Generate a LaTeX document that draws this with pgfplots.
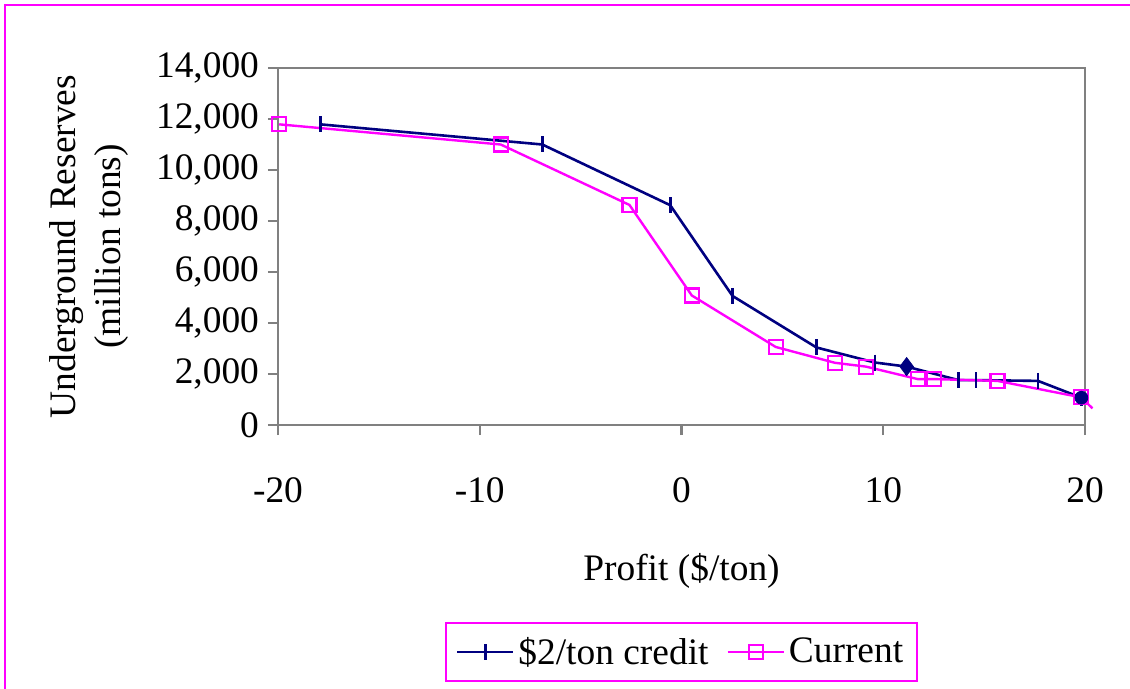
\documentclass[border=0pt]{standalone}
\usepackage{pgfplots}
\pgfplotsset{compat=1.18}
\usepackage{fontspec}
\setmainfont{Liberation Serif}
\definecolor{navyb}{HTML}{000080}
\definecolor{magb}{HTML}{FF00FF}
\definecolor{axgray}{HTML}{808080}
\begin{document}
\begin{tikzpicture}
\useasboundingbox (0,0) rectangle (565pt,-344.5pt);
\draw[magb, line width=1.1pt] (2.5pt,-344.5pt) -- (2.5pt,-2.5pt) -- (565pt,-2.5pt);
\begin{axis}[
  at={(139pt,-212.5pt)}, anchor=south west,
  scale only axis, width=403.5pt, height=178.5pt,
  xmin=-20, xmax=20, ymin=0, ymax=14000,
  xtick={-20,-10,0,10,20}, ytick={0,2000,...,14000},
  axis line style={axgray, line width=1.2pt},
  tick style={axgray, line width=1.2pt},
  tick align=outside, major tick length=5pt,
  xtick pos=bottom, ytick pos=left,
  scaled y ticks=false,
  /pgf/number format/.cd, 1000 sep={,}, assume math mode=true,
  /pgfplots/.cd,
  ticklabel style={font=\fontsize{18.7}{22}\selectfont},
  xticklabel style={yshift=-18pt},
  yticklabel style={xshift=-1pt},
  xlabel={Profit (\$/ton)},
  xlabel style={font=\fontsize{18.7}{22}\selectfont, yshift=-18pt},
  ylabel style={font=\fontsize{18.7}{22.5}\selectfont, align=center, yshift=7pt},
  ylabel={Underground Reserves\\(million tons)},
  clip=false,
  legend columns=2,
  legend style={at={(0.5,-0.636)}, anchor=center, draw=magb, line width=1pt,
    font=\fontsize{18.7}{22}\selectfont, inner xsep=5pt, inner ysep=5pt,
    /tikz/every even column/.append style={column sep=7pt}},
  legend image code/.code={\draw[#1, mark repeat=2, mark phase=2] plot coordinates {(0pt,0pt) (14pt,0pt) (28pt,0pt)};},
]
\addplot[navyb, line width=1.3pt, mark=|, mark size=4pt, mark options={line width=1.4pt}] coordinates {
(-17.9,11790) (-6.9,11000) (-0.56,8620) (2.53,5060) (6.69,3040) (9.59,2450)
(11.16,2290) (13.73,1760) (14.6,1760) (17.67,1730) (19.82,1070)
};
\addlegendentry{\$2/ton credit}
\addplot[magb, line width=1.2pt, mark=square, mark size=3.5pt, mark options={line width=1.1pt}] coordinates {
(-19.94,11790) (-8.96,11000) (-2.58,8630) (0.51,5080) (4.67,3060) (7.6,2440)
(9.14,2290) (11.71,1800) (12.53,1800) (15.66,1730) (19.8,1085)
};
\addlegendentry{Current}
\addplot[magb, line width=1.2pt, forget plot] coordinates {(19.8,1085) (20.37,655)};
\addplot[navyb, only marks, mark=diamond*, mark size=4.5pt, forget plot] coordinates {(11.16,2290)};
\addplot[navyb, only marks, mark=*, mark size=3.2pt, forget plot] coordinates {(19.82,1070)};
\end{axis}
\end{tikzpicture}
\end{document}
